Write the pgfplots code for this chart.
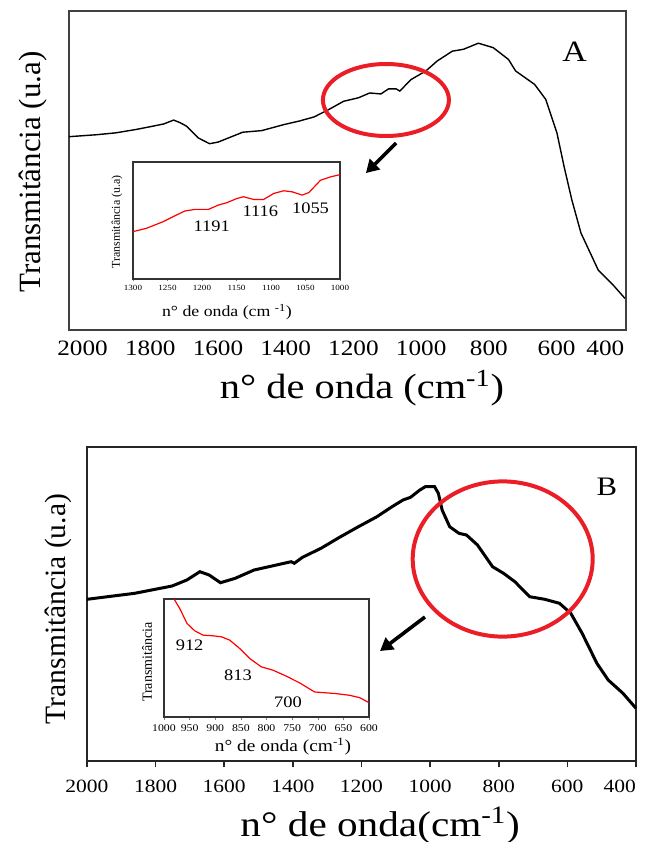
\documentclass[border=0pt]{standalone}
\usepackage{pgfplots}
\pgfplotsset{compat=1.18}
\usepackage{pgfplotstable}
\usepackage{fontspec}
\setmainfont[FakeStretch=1.15]{Liberation Serif}
\newfontfamily\plain{Liberation Serif}
\usetikzlibrary{arrows.meta}
\definecolor{circred}{RGB}{235,30,40}
\newcommand{\fs}[1]{\fontsize{#1}{#1}\selectfont}

\pgfplotstableread{
w y
2040 60.6
1960 61.2
1902 61.8
1840 62.9
1792 63.9
1760 64.6
1731 65.8
1712 65.0
1693 63.9
1658 60.2
1625 58.4
1600 58.9
1581 59.7
1527 62.0
1471 62.5
1405 64.4
1360 65.5
1316 66.8
1273 69.1
1229 71.7
1185 72.8
1152 74.3
1119 74.0
1096 75.6
1074 75.6
1063 74.9
1030 78.5
986 81.2
953 84.3
908 87.4
875 88.0
831 89.9
787 88.5
742 84.8
721 81.2
665 77.0
632 72.3
599 61.8
578 51.3
555 40.8
528 30.4
477 18.8
433 14.1
398 9.9
}\specA

\pgfplotstableread{
w y
1300 40.5
1280.6 43.3
1256.3 49.0
1236.9 54.7
1224.8 58.1
1210.2 59.5
1190.8 59.5
1176.2 63.2
1164.1 65.2
1149.5 68.8
1139.8 70.3
1125.2 68.0
1110.7 68.0
1096.1 73.1
1081.6 75.4
1069.4 74.5
1054.9 71.7
1045.1 73.9
1028.2 84.4
1013.6 87.3
1000 89.2
}\insetA

\pgfplotstableread{
w y
2000 161.7
1861 167.7
1752 175
1709 181
1671 189.3
1644 186
1611 178.3
1568 182.7
1513 191
1448 196
1405 199.3
1396 197.7
1372 203.7
1318 212.7
1264 223.7
1209 234.3
1155 244.3
1111 254.3
1079 261
1057 263.7
1030 271
1014 274.3
987 274.3
976 267.7
965 251
943 234.3
916 227.7
894 226
862 216
818 194.3
786 187.7
753 179.3
710 164.3
666 161.7
623 157.7
590 147.7
557 127.7
514 97.7
481 81
438 67.7
400 52.7
}\specB

\pgfplotstableread{
w y
980.5 100
969.4 92.1
955.1 79.3
940.2 73.1
923.9 69.4
904.4 68.8
888.1 68.0
871.9 65.2
852.4 58.1
832.8 49.6
810.1 42.5
787.3 39.7
761.3 34.6
735.3 28.9
706.0 21.2
689.8 20.7
663.7 19.8
637.7 18.4
618.2 16.4
600 12.2
}\insetB

\begin{document}
\begin{tikzpicture}
\path[use as bounding box] (0,0) rectangle (161mm,-210.5mm);

% ---------------- Panel A ----------------
\begin{axis}[
  at={(17.25mm,-82.5mm)}, anchor=south west,
  scale only axis, width=139.25mm, height=79.75mm,
  x dir=reverse, xmin=395, xmax=2040, ymin=0, ymax=100,
  clip=false,
  axis line style={line width=0.5mm, draw=black!75},
  xtick={400,600,...,2000}, ytick=\empty,
  xticklabels={\makebox[0pt][r]{400},600,800,1000,1200,1400,1600,1800,2000},
  major tick length=0pt,
  xticklabel style={font=\fs{15.6pt}, yshift=-1.6mm},
  xlabel={n° de onda (cm\textsuperscript{-1})},
  xlabel style={font=\fs{25pt}, at={(axis description cs:0.526,-0.182)}, anchor=center},
  ylabel={Transmitância (u.a)},
  ylabel style={font=\plain\fs{22pt}, at={(axis description cs:-0.0646,0.495)}, anchor=center},
]
\addplot[black, line width=0.35mm] table[x=w,y=y] {\specA};
\draw[circred, line width=1mm] (axis cs:1104,72.1) ellipse [x radius=15.75mm, y radius=9mm];
\draw[black, line width=0.9mm, -{Triangle[length=3.2mm,width=3.6mm]}] (axis cs:1074,58.6) -- (axis cs:1163,49.2);
\node[font=\fs{21pt}] at (axis description cs:0.908,0.871) {A};
\end{axis}

% ---------------- Inset A ----------------
\begin{axis}[
  at={(33.25mm,-69.75mm)}, anchor=south west,
  scale only axis, width=51.75mm, height=29.25mm,
  x dir=reverse, xmin=1000, xmax=1300, ymin=0, ymax=100,
  clip=false,
  axis line style={line width=0.35mm, draw=black!80},
  xtick={1000,1050,...,1300}, ytick=\empty,
  xticklabels={1000,1050,1100,1150,1200,1250,1300},
  xtick pos=bottom, tick align=outside, major tick length=0.5mm,
  xticklabel style={font=\fs{5.6pt}, yshift=0.2mm},
  xlabel={n° de onda (cm \textsuperscript{-1})},
  xlabel style={font=\fs{11pt}, at={(axis description cs:0.454,-0.282)}, anchor=center},
  ylabel={Transmitância (u.a)},
  ylabel style={font=\plain\fs{8.5pt}, at={(axis description cs:-0.077,0.487)}, anchor=center},
]
\addplot[red, line width=0.3mm] table[x=w,y=y] {\insetA};
\node[font=\fs{11.4pt}] at (axis cs:1186,44.8) {1191};
\node[font=\fs{11.4pt}] at (axis cs:1115.5,57.5) {1116};
\node[font=\fs{11.4pt}] at (axis cs:1042.7,60.3) {1055};
\end{axis}

% ---------------- Panel B ----------------
\begin{axis}[
  at={(21.75mm,-190.25mm)}, anchor=south west,
  scale only axis, width=137.25mm, height=78.5mm,
  x dir=reverse, xmin=400, xmax=2000, ymin=0, ymax=314,
  clip=false,
  axis line style={line width=0.4mm, draw=black!85},
  xtick={400,600,...,2000}, ytick=\empty,
  xticklabels={\makebox[0pt][r]{400},600,800,1000,1200,1400,1600,1800,2000},
  xtick pos=bottom, tick align=outside, major tick length=1.6mm,
  tick style={line width=0.4mm, black!85},
  xticklabel style={font=\fs{13.3pt}, yshift=-1.8mm},
  xlabel={n° de onda(cm\textsuperscript{-1})},
  xlabel style={font=\fs{25.5pt}, at={(axis description cs:0.534,-0.205)}, anchor=center},
  ylabel={Transmitância (u.a)},
  ylabel style={font=\plain\fs{21pt}, at={(axis description cs:-0.053,0.484)}, anchor=center},
]
\addplot[black, line width=0.75mm] table[x=w,y=y] {\specB};
\draw[circred, line width=1mm] (axis cs:788.5,202) ellipse [x radius=22.5mm, y radius=19.4mm];
\draw[black, line width=0.9mm, -{Triangle[length=3.2mm,width=3.6mm]}] (axis cs:1015,144) -- (axis cs:1146,110);
\node[font=\fs{19pt}] at (axis description cs:0.947,0.873) {B};
\end{axis}

% ---------------- Inset B ----------------
\begin{axis}[
  at={(41mm,-179.25mm)}, anchor=south west,
  scale only axis, width=51.25mm, height=29.5mm,
  x dir=reverse, xmin=600, xmax=1000, ymin=0, ymax=100,
  clip=false,
  axis line style={line width=0.35mm, draw=black!80},
  xtick={600,650,...,1000}, ytick=\empty,
  xticklabels={600,650,700,750,800,850,900,950,1000},
  xtick pos=bottom, tick align=outside, major tick length=0.7mm,
  xticklabel style={font=\fs{7.3pt}},
  xlabel={n° de onda (cm\textsuperscript{-1})},
  xlabel style={font=\fs{12pt}, at={(axis description cs:0.58,-0.254)}, anchor=center},
  ylabel={Transmitância},
  ylabel style={font=\plain\fs{10pt}, at={(axis description cs:-0.083,0.466)}, anchor=center},
]
\addplot[red, line width=0.3mm] table[x=w,y=y] {\insetB};
\node[font=\fs{11.4pt}] at (axis cs:950,60.9) {912};
\node[font=\fs{11.4pt}] at (axis cs:855.6,35.4) {813};
\node[font=\fs{11.4pt}] at (axis cs:758,12.7) {700};
\end{axis}
\end{tikzpicture}
\end{document}
